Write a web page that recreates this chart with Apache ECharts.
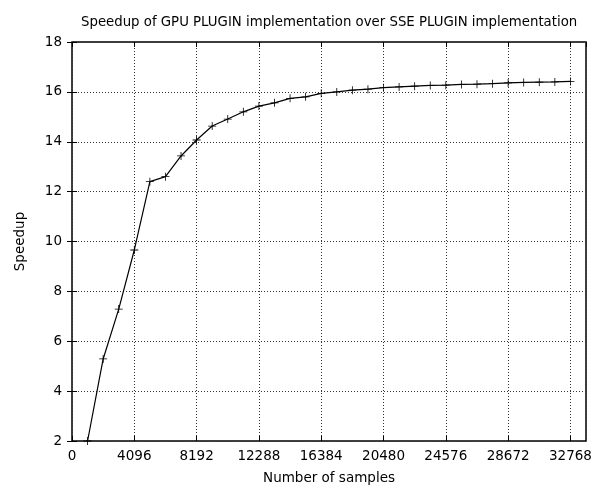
<!DOCTYPE html>
<html>
<head>
<meta charset="utf-8">
<script src="https://cdn.jsdelivr.net/npm/echarts@6/dist/echarts.min.js"></script>
<style>
  html, body { margin: 0; padding: 0; background: #fff; }
  #chart { width: 602px; height: 486px; }
</style>
</head>
<body>
<div id="chart"></div>
<script>
// samples (x) and speedup (y)
var samples = [1024, 2048, 3072, 4096, 5120, 6144, 7168, 8192,
    9216, 10240, 11264, 12288, 13312, 14336, 15360, 16384,
    17408, 18432, 19456, 20480, 21504, 22528, 23552, 24576,
    25600, 26624, 27648, 28672, 29696, 30720, 31744, 32768];
var speedup = [2.0, 5.29, 7.29, 9.66, 12.4, 12.6, 13.43, 14.07,
    14.63, 14.91, 15.2, 15.43, 15.56, 15.74, 15.8, 15.94,
    16.0, 16.07, 16.11, 16.17, 16.2, 16.23, 16.26, 16.27,
    16.3, 16.31, 16.33, 16.36, 16.38, 16.39, 16.4, 16.42];

(function () {
    var myChart = echarts.init(document.querySelector('#chart'));
    var font = 'DejaVu Sans';
    var fs = 13.5;
    var pts = samples.map(function (s, i) { return [s, speedup[i]]; });
    var dotted = { color: '#333', width: 1, type: [1, 2] };
    var mirrorX = {
        type: 'value', min: 0, max: 33792, interval: 4096, position: 'top',
        axisLine: { show: false },
        axisTick: { show: true, inside: true, length: 5, lineStyle: { color: '#000' } },
        axisLabel: { show: false }, splitLine: { show: false }
    };
    var mirrorY = {
        type: 'value', min: 2, max: 18, interval: 2, position: 'right',
        axisLine: { show: false },
        axisTick: { show: true, inside: true, length: 5, lineStyle: { color: '#000' } },
        axisLabel: { show: false }, splitLine: { show: false }
    };
    myChart.setOption({
        animation: false,
        backgroundColor: '#fff',
        title: {
            text: 'Speedup of GPU PLUGIN implementation over SSE PLUGIN implementation',
            left: 76,
            top: 11,
            textStyle: { fontFamily: font, fontSize: 13.3, fontWeight: 'normal', color: '#000' }
        },
        grid: {
            left: 72, right: 16, top: 42, bottom: 45,
            outerBoundsMode: 'none',
            show: true, borderColor: '#000', borderWidth: 1.5
        },
        xAxis: [{
            type: 'value', min: 0, max: 33792, interval: 4096,
            name: 'Number of samples', nameLocation: 'middle', nameGap: 30,
            nameTextStyle: { fontFamily: font, fontSize: fs, color: '#000' },
            axisLine: { show: false },
            axisTick: { show: true, inside: true, length: 5, lineStyle: { color: '#000' } },
            axisLabel: {
                fontFamily: font, fontSize: fs, color: '#000', margin: 8,
                showMaxLabel: false,
                formatter: function (v) { return v % 4096 === 0 ? String(v) : ''; }
            },
            splitLine: { show: true, lineStyle: dotted }
        }, mirrorX],
        yAxis: [{
            type: 'value', min: 2, max: 18, interval: 2,
            name: 'Speedup', nameLocation: 'middle', nameGap: 45, nameRotate: 90,
            nameTextStyle: { fontFamily: font, fontSize: fs, color: '#000' },
            axisLine: { show: false },
            axisTick: { show: true, inside: true, length: 5, lineStyle: { color: '#000' } },
            axisLabel: { fontFamily: font, fontSize: fs, color: '#000', margin: 10 },
            splitLine: { show: true, lineStyle: dotted }
        }, mirrorY],
        series: [{
            type: 'line',
            data: pts,
            symbol: 'path://M4.5,0h1v4.5h4.5v1h-4.5v4.5h-1v-4.5h-4.5v-1h4.5z',
            symbolSize: 8,
            itemStyle: { color: '#000' },
            lineStyle: { color: '#000', width: 1.2 },
            z: 5
        }]
    });
})();
</script>
</body>
</html>
